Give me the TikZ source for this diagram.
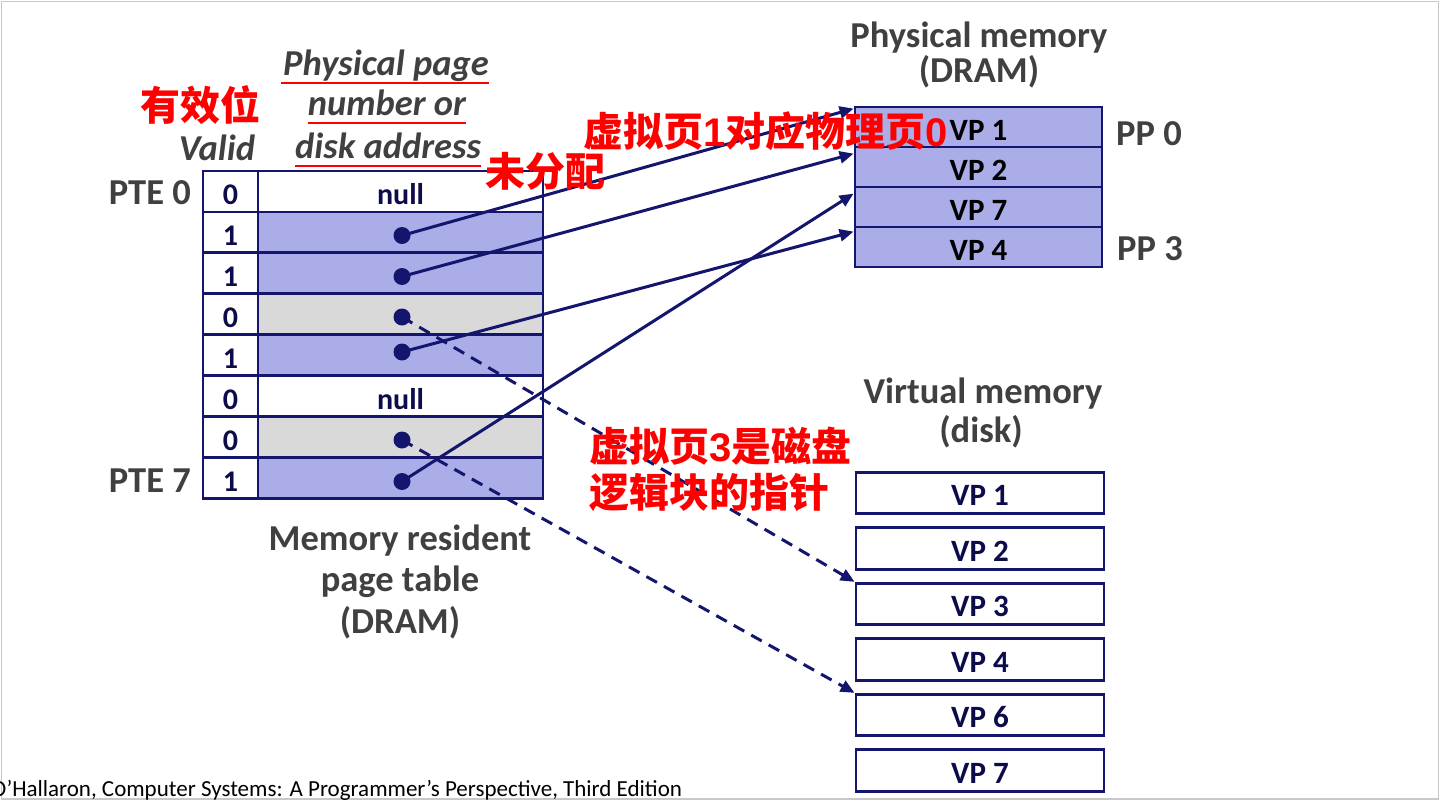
\documentclass[tikz,border=0pt]{standalone}
\usepackage{fontspec}
\setmainfont{Carlito}
\newfontfamily\cjk{Noto Sans CJK SC}
\newfontfamily\arialf{Liberation Sans}
\usetikzlibrary{arrows.meta,calc}
\definecolor{navy}{HTML}{14166E}
\definecolor{navytext}{HTML}{0C0C4A}
\definecolor{pfill}{HTML}{AAADE8}
\definecolor{gfill}{HTML}{D9D9D9}
\definecolor{labgray}{HTML}{404040}
\definecolor{redt}{HTML}{FF0000}
\definecolor{framegray}{HTML}{C8C8C8}
\begin{document}
\begin{tikzpicture}[x=1pt,y=-1pt,
  cellbox/.style={draw=navy, line width=2.8pt, inner sep=0pt, minimum height=40.9pt,
    font=\bfseries\fontsize{30}{32}\selectfont, text=navytext, text height=27pt, text depth=0pt},
  validcell/.style={cellbox, fill=white, minimum width=55pt},
  pagecell/.style={cellbox, minimum width=285pt},
  memcell/.style={draw=navy, fill=pfill, line width=2.8pt, minimum width=247pt, minimum height=40pt,
    inner sep=0pt, font=\bfseries\fontsize{31}{33}\selectfont, text=black, text height=26pt, text depth=0pt},
  diskcell/.style={draw=navy, fill=white, line width=2.8pt, minimum width=248pt, minimum height=41.5pt,
    inner sep=0pt, font=\bfseries\fontsize{31}{33}\selectfont, text=navytext, text height=25pt, text depth=0pt},
  dotn/.style={circle, fill=navy, minimum size=17pt, inner sep=0pt},
  link/.style={draw=navy, line width=3pt, -{Triangle[length=14pt,width=12pt]}},
  dlink/.style={link, dash pattern=on 12pt off 8pt},
  gtext/.style={text=labgray, font=\bfseries\fontsize{36.5}{40}\selectfont, inner sep=0pt},
  italhead/.style={text=labgray, font=\bfseries\itshape\fontsize{36.5}{40}\selectfont, inner sep=0pt},
  redtxt/.style={text=redt, font=\cjk\bfseries\fontsize{40}{46}\selectfont, inner sep=0pt},
  redline/.style={draw=redt, line width=2.8pt}
]
\useasboundingbox (0,0) rectangle (1440,801);
\draw[framegray, line width=1.5pt] (1.5,1.5) rectangle (1438.5,799);

% page table
\node[validcell] (v0) at (230.5,191.45) {0};
\node[pagecell, fill=white] (p0) at (400.5,191.45) {null};
\node[validcell] (v1) at (230.5,232.35) {1};
\node[pagecell, fill=pfill] (p1) at (400.5,232.35) {};
\node[validcell] (v2) at (230.5,273.25) {1};
\node[pagecell, fill=pfill] (p2) at (400.5,273.25) {};
\node[validcell] (v3) at (230.5,314.15) {0};
\node[pagecell, fill=gfill] (p3) at (400.5,314.15) {};
\node[validcell] (v4) at (230.5,355.05) {1};
\node[pagecell, fill=pfill] (p4) at (400.5,355.05) {};
\node[validcell] (v5) at (230.5,395.95) {0};
\node[pagecell, fill=white] (p5) at (400.5,395.95) {null};
\node[validcell] (v6) at (230.5,436.85) {0};
\node[pagecell, fill=gfill] (p6) at (400.5,436.85) {};
\node[validcell] (v7) at (230.5,477.75) {1};
\node[pagecell, fill=pfill] (p7) at (400.5,477.75) {};

% physical memory
\node[memcell] (m0) at (978.5,127) {VP 1};
\node[memcell] (m1) at (978.5,167) {VP 2};
\node[memcell] (m2) at (978.5,207) {VP 7};
\node[memcell] (m3) at (978.5,247) {VP 4};

% virtual memory
\node[diskcell] (w1) at (980,493) {VP 1};
\node[diskcell] (w2) at (980,548.5) {VP 2};
\node[diskcell] (w3) at (980,604) {VP 3};
\node[diskcell] (w4) at (980,659.5) {VP 4};
\node[diskcell] (w6) at (980,715) {VP 6};
\node[diskcell] (w7) at (980,770.5) {VP 7};

% dots
\node[dotn] (d1) at (402,235.5) {};
\node[dotn] (d2) at (402,276.5) {};
\node[dotn] (d3) at (402,317) {};
\node[dotn] (d4) at (402,352) {};
\node[dotn] (d6) at (402,440) {};
\node[dotn] (d7) at (402,481.5) {};

% connectors
\draw[link] (d1.center) -- ($(m0.north west)+(0,3)$);
\draw[link] (d2.center) -- ($(m1.north west)+(0,8)$);
\draw[link] (d4.center) -- ($(m3.north west)+(0,6)$);
\draw[link] (d7.center) -- ($(m2.north west)+(0,8)$);
\draw[dlink] (d3.center) -- (w3.north west);
\draw[dlink] (d6.center) -- (w6.north west);

% gray labels
\node[gtext, anchor=base] (pm1) at (979,47) {Physical memory};
\node[gtext, anchor=base] (pm2) at (979,82) {(DRAM)};
\node[gtext, anchor=base west] (pp0) at (1116,145) {PP 0};
\node[gtext, anchor=base west] (pp3) at (1117,260) {PP 3};
\node[gtext, anchor=base] (vm1) at (983,403) {Virtual memory};
\node[gtext, anchor=base] (vm2) at (981,442) {(disk)};
\node[gtext, anchor=base east] (pte0) at (191,204) {PTE 0};
\node[gtext, anchor=base east] (pte7) at (191,492) {PTE 7};
\node[gtext, anchor=base] (mr1) at (400,550) {Memory resident};
\node[gtext, anchor=base] (mr2) at (400,591) {page table};
\node[gtext, anchor=base] (mr3) at (400,633) {(DRAM)};

% headers
\node[italhead, anchor=base] (vl) at (217,160) {Valid};
\node[italhead, anchor=base] (h1) at (386,75) {Physical page};
\node[italhead, anchor=base] (h2) at (387,115) {number or};
\node[italhead, anchor=base] (h3) at (388,158) {disk address};
\draw[redline] ($(h1.base west)+(-2,8)$) -- ($(h1.base east)+(0,8)$);
\draw[redline] ($(h2.base west)+(0,8)$) -- ($(h2.base east)+(0,8)$);
\draw[redline] ($(h3.base west)+(0,8)$) -- ($(h3.base east)+(0,8)$);

% red annotations
\node[redtxt, anchor=west] (r1) at (140,105) {有效位};
\node[redtxt, anchor=west] (r2) at (485,171) {未分配};
\node[redtxt, anchor=west] (r3) at (583,131) {虚拟页{\arialf\bfseries 1}对应物理页{\arialf\bfseries 0}};
\node[redtxt, anchor=west, align=left] (r4) at (589,469) {虚拟页{\arialf\bfseries 3}是磁盘\\逻辑块的指针};

% footer
\node[anchor=base west, inner sep=0pt, text=black, font=\fontsize{23}{25}\selectfont] (ft) at (-9,796)
  {O’Hallaron, Computer Systems: A Programmer’s Perspective, Third Edition};
\end{tikzpicture}
\end{document}
